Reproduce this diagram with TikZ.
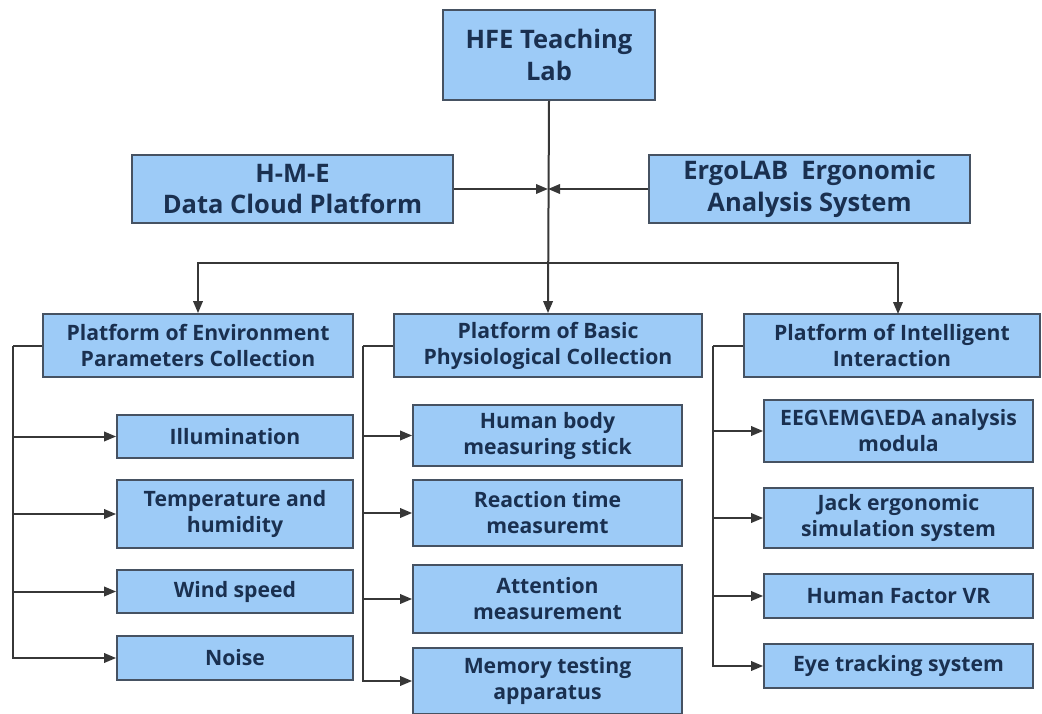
\documentclass[tikz,border=0pt]{standalone}
\usepackage{fontspec}
\setmainfont{Open Sans}
\usetikzlibrary{arrows.meta}
\definecolor{boxfill}{RGB}{157,203,247}
\definecolor{boxline}{RGB}{70,82,98}
\definecolor{txt}{RGB}{26,48,80}
\definecolor{conn}{RGB}{55,55,55}
\tikzset{
  box/.style={draw=boxline, line width=1.8pt, fill=boxfill, rectangle, inner sep=0pt,
    align=center, text=txt, font=\bfseries\fontsize{21.2}{26}\selectfont},
  bigbox/.style={box, font=\bfseries\fontsize{25.5}{31.5}\selectfont},
  conn/.style={draw=conn, line width=2pt},
  arr/.style={conn, -{Triangle[length=12pt,width=9.5pt]}},
}
\begin{document}
\begin{tikzpicture}[x=1pt,y=-1pt]
\useasboundingbox (0,0) rectangle (1042,714);
% top level
\node[bigbox, minimum width=212, minimum height=90] (top) at (549,55) {HFE Teaching\\Lab};
\node[bigbox, minimum width=321, minimum height=68] (hme) at (292.5,189) {H-M-E\\Data Cloud Platform};
\node[bigbox, minimum width=321, minimum height=68] (ergo) at (809.5,189) {ErgoLAB\ \ Ergonomic\\Analysis System};
% platforms
\node[box, minimum width=310, minimum height=63] (p1) at (198,345.5) {Platform of Environment\\Parameters Collection};
\node[box, minimum width=308, minimum height=63] (p2) at (548,345.5) {Platform of Basic\\Physiological Collection};
\node[box, minimum width=296, minimum height=63] (p3) at (892,345.5) {Platform of Intelligent\\Interaction};
% column 1
\node[box, minimum width=236, minimum height=43] (ill) at (235,436.5) {Illumination};
\node[box, minimum width=236, minimum height=68] (temp) at (235,514) {Temperature and\\humidity};
\node[box, minimum width=236, minimum height=43] (wind) at (235,591.5) {Wind speed};
\node[box, minimum width=236, minimum height=44] (noise) at (235,658) {Noise};
% column 2
\node[box, minimum width=269, minimum height=61] (human) at (547.5,435.5) {Human body\\measuring stick};
\node[box, minimum width=269, minimum height=66] (react) at (547.5,513) {Reaction time\\measuremt};
\node[box, minimum width=269, minimum height=68] (atten) at (547.5,599) {Attention\\measurement};
\node[box, minimum width=269, minimum height=66] (memory) at (547.5,681) {Memory testing\\apparatus};
% column 3
\node[box, minimum width=269, minimum height=62] (eeg) at (898.5,431) {EEG\textbackslash EMG\textbackslash EDA analysis\\modula};
\node[box, minimum width=269, minimum height=60] (jack) at (898.5,518) {Jack ergonomic\\simulation system};
\node[box, minimum width=269, minimum height=44] (hfvr) at (898.5,596) {Human Factor VR};
\node[box, minimum width=269, minimum height=44] (eye) at (898.5,666) {Eye tracking system};
% connectors: top
\coordinate (hub) at (548,263);
\coordinate (mid) at (548,189);
\coordinate (p3in) at (898,314);
\draw[arr] (top.south) -- (p2.north);
\draw[arr] (hme.east) -- (mid);
\draw[arr] (ergo.west) -- (mid);
\draw[arr] (hub) -| (p1.north);
\draw[arr] (hub) -| (p3in);
% brackets
\coordinate (b1) at (13,345.5);
\coordinate (b2) at (363,345.5);
\coordinate (b3) at (713,345.5);
\draw[conn] (p1.west) -- (b1);
\draw[conn] (p2.west) -- (b2);
\draw[conn] (p3.west) -- (b3);
\foreach \n in {ill,temp,wind,noise} \draw[arr] (b1) |- (\n.west);
\foreach \n in {human,react,atten,memory} \draw[arr] (b2) |- (\n.west);
\foreach \n in {eeg,jack,hfvr,eye} \draw[arr] (b3) |- (\n.west);
\end{tikzpicture}
\end{document}
